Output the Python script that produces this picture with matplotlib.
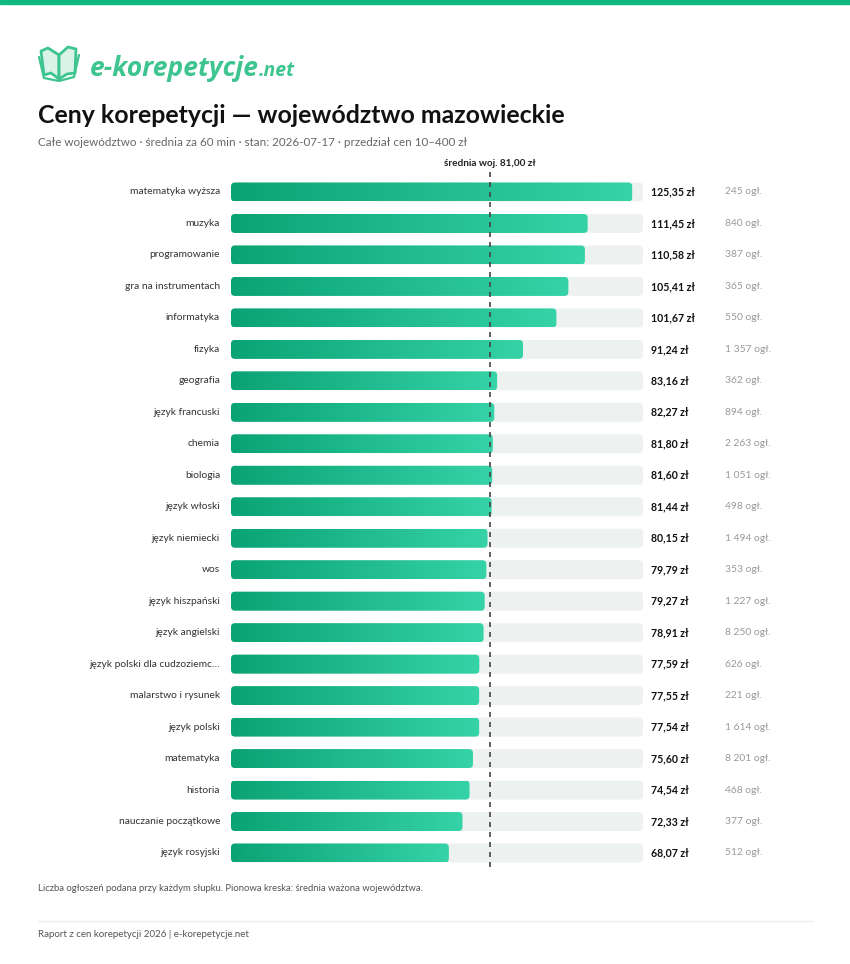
import matplotlib
matplotlib.use('Agg')
import matplotlib.pyplot as plt
import matplotlib.transforms as mtransforms
from matplotlib.patches import FancyBboxPatch, Rectangle, Polygon
from matplotlib.colors import LinearSegmentedColormap
from matplotlib.lines import Line2D
import numpy as np

plt.rcParams['font.family'] = ['Lato', 'DejaVu Sans']

# data
subjects = ['matematyka wyższa', 'muzyka', 'programowanie', 'gra na instrumentach',
            'informatyka', 'fizyka', 'geografia', 'język francuski', 'chemia',
            'biologia', 'język włoski', 'język niemiecki', 'wos', 'język hiszpański',
            'język angielski', 'język polski dla cudzoziemc…', 'malarstwo i rysunek',
            'język polski', 'matematyka', 'historia', 'nauczanie początkowe',
            'język rosyjski']
prices = [125.35, 111.45, 110.58, 105.41, 101.67, 91.24, 83.16, 82.27, 81.80,
          81.60, 81.44, 80.15, 79.79, 79.27, 78.91, 77.59, 77.55, 77.54, 75.60,
          74.54, 72.33, 68.07]
counts = [245, 840, 387, 365, 550, 1357, 362, 894, 2263, 1051, 498, 1494, 353,
          1227, 8250, 626, 221, 1614, 8201, 468, 377, 512]
mean_price = 81.00

W, H = 850, 964
fig = plt.figure(figsize=(W / 100, H / 100), dpi=100)
fig.patch.set_facecolor('white')

def fx(px):
    return px / W

def fy(py):
    return 1 - py / H

def pl(v):
    return f'{v:.2f}'.replace('.', ',')

# top green band
fig.patches.append(Rectangle((0, fy(4)), 1, 4 / H, transform=fig.transFigure,
                             color='#10b981', zorder=0))

# logo: book icon
lax = fig.add_axes([fx(38), fy(82), fx(42), 37 / H])
lax.set_xlim(0, 42)
lax.set_ylim(37, 0)
lax.axis('off')
green = '#3ec48f'
lax.add_patch(Polygon([[21, 10], [10, 3], [3, 6], [6, 30], [13, 28], [21, 34]],
                      closed=True, fc='#d9f3e8', ec=green, lw=2, joinstyle='round'))
lax.add_patch(Polygon([[21, 10], [30, 2], [38, 4], [37, 28], [29, 29], [21, 34]],
                      closed=True, fc='#d9f3e8', ec=green, lw=2, joinstyle='round'))
lax.plot([21, 21], [10, 34], color=green, lw=1.6)
lax.plot([1, 6, 21, 36, 41], [12, 33, 36, 32, 10], color=green, lw=1.6,
         solid_capstyle='round')

t_logo = fig.text(fx(90), fy(76), 'e-korepetycje', fontsize=19, fontweight='bold',
                  fontstyle='italic', color=green, ha='left', va='baseline',
                  family=['Open Sans', 'DejaVu Sans'])
fig.canvas.draw()
bb = t_logo.get_window_extent(fig.canvas.get_renderer())
fig.text(bb.x1 / W, fy(76), '.net', fontsize=14, fontweight='bold',
         fontstyle='italic', color=green, ha='left', va='baseline',
         family=['Open Sans', 'DejaVu Sans'])

# titles
fig.text(fx(38), fy(123), 'Ceny korepetycji — województwo mazowieckie',
         fontsize=17.9, fontweight='bold', color='#111111', va='baseline')
fig.text(fx(38), fy(146), 'Całe województwo · średnia za 60 min · stan: 2026-07-17 · '
         'przedział cen 10–400 zł', fontsize=8.4, color='#666666', va='baseline')

# main axes
n = len(subjects)
row_px = (853 - 192) / (n - 1)
y_top, y_bot = -0.7, n - 1 + 0.6
ax_top = 192 + y_top * row_px
ax_bot = 192 + y_bot * row_px
track_max = max(prices) * 1.027
ax = fig.add_axes([fx(231), fy(ax_bot), fx(643 - 231), (ax_bot - ax_top) / H])
ax.set_xlim(0, track_max)
ax.set_ylim(y_bot, y_top)
ax.axis('off')

px_per_x = (643 - 231) / track_max
r_px = 4
bar_h = 19 / row_px
aspect = (1 / row_px) / (1 / px_per_x)
cmap = LinearSegmentedColormap.from_list('g', ['#0aa374', '#35d3a7'])
grad = np.linspace(0, 1, 256).reshape(1, -1)

for i, (s, p, c) in enumerate(zip(subjects, prices, counts)):
    track = FancyBboxPatch((0, i - bar_h / 2), track_max, bar_h,
                           boxstyle=f'round,pad=0,rounding_size={r_px / px_per_x}',
                           mutation_aspect=aspect, fc='#edf2f0', ec='none', zorder=1)
    ax.add_patch(track)
    bar = FancyBboxPatch((0, i - bar_h / 2), p, bar_h,
                         boxstyle=f'round,pad=0,rounding_size={r_px / px_per_x}',
                         mutation_aspect=aspect, fc='none', ec='none', zorder=2)
    ax.add_patch(bar)
    im = ax.imshow(grad, cmap=cmap, aspect='auto', zorder=2,
                   extent=[0, p, i + bar_h / 2, i - bar_h / 2], interpolation='bilinear')
    im.set_clip_path(bar)

ax.set_xlim(0, track_max)
ax.set_ylim(y_bot, y_top)

ax.plot([mean_price, mean_price], [y_top + 0.05, y_bot - 0.12], color='#444444',
        lw=1.2, dashes=(3, 3), zorder=4)
ax.text(mean_price, -0.83, f'średnia woj. {pl(mean_price)} zł', ha='center',
        va='baseline', fontsize=7.2, fontweight='bold', color='#222222', clip_on=False)

bt = mtransforms.blended_transform_factory(fig.transFigure, ax.transData)
for i, (s, p, c) in enumerate(zip(subjects, prices, counts)):
    ax.text(fx(220), i, s, transform=bt, ha='right', va='center', fontsize=7.4,
            color='#333333')
    ax.text(fx(651), i, pl(p) + ' zł', transform=bt,
            ha='left', va='center', fontsize=7.6, fontweight='bold', color='#111111')
    ax.text(fx(725), i, f'{c:,}'.replace(',', ' ') + ' ogł.', transform=bt,
            ha='left', va='center', fontsize=7.4, color='#999999')

# notes and footer
fig.text(fx(38), fy(891), 'Liczba ogłoszeń podana przy każdym słupku. Pionowa kreska: '
         'średnia ważona województwa.', fontsize=6.8, color='#555555', va='baseline')
fig.lines.append(Line2D([fx(38), fx(812)], [fy(921), fy(921)], transform=fig.transFigure,
                        color='#eeeeee', lw=1))
fig.text(fx(38), fy(937), 'Raport z cen korepetycji 2026 | e-korepetycje.net',
         fontsize=7.0, color='#555555', va='baseline')

fig.savefig('out.png', dpi=100, facecolor='white')
